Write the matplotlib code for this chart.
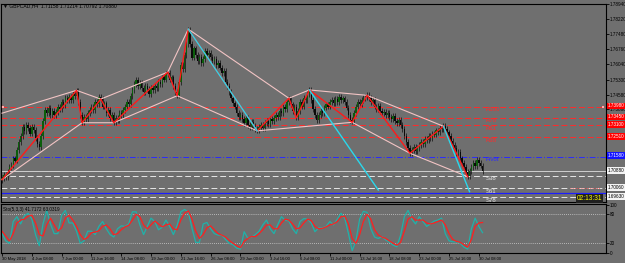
import numpy as np
import matplotlib
matplotlib.use("Agg")
import matplotlib.pyplot as plt
from matplotlib.transforms import blended_transform_factory

# GBPCAD H4 closes, in pips above 1.70000
closes = [
    55, 70, 62, 85, 108,
    120, 150, 140, 190, 230, 260, 300,
    280, 310, 295, 270, 300, 286,
    250, 220, 204,
    260, 330, 382,
    370, 395, 360, 380, 358,
    375, 400, 390, 420, 405, 440, 430,
    445, 430, 460, 450, 473,
    420, 360, 324,
    350, 340, 370, 382,
    400, 385, 420, 410, 445, 435,
    400, 415, 370, 385, 345, 360, 324,
    345, 335, 370, 360, 385, 396,
    420, 410, 450, 480, 510, 526,
    500, 515, 490, 470, 500, 485, 460, 490, 478,
    500, 490, 520, 510, 540, 530, 555, 564,
    530, 540, 500, 470, 454,
    520, 600, 580, 650, 700, 770,
    700, 636,
    680, 650, 620, 640, 610, 630, 670, 650, 660,
    640, 620, 630, 600, 610, 588,
    560, 570, 520, 500, 470, 440, 415,
    400, 370, 348,
    360, 340, 320, 345, 310, 300, 325, 305, 290, 286,
    300, 310, 295, 320, 330, 315, 340, 330, 343,
    360, 350, 380, 370, 400, 390, 420, 439,
    410, 380, 400, 348,
    380, 420, 400, 440, 430, 460, 478,
    430, 390, 360, 334,
    360, 380, 370, 395, 410, 400, 420, 430,
    415, 435, 420, 445, 430, 439,
    420, 395, 360, 335,
    330, 370, 400, 420, 410, 430, 440, 445, 454,
    440, 420, 430, 400, 390, 405, 380, 370, 375, 358,
    370, 350, 340, 355, 330, 320, 335, 310,
    290, 260, 230, 200, 175,
    190, 205, 185, 200, 214,
    230, 220, 245, 240, 260, 250, 270, 265, 285, 275, 295, 290, 305,
    290, 275, 260, 235, 214,
    200, 175, 180, 150, 130, 110, 85, 65,
    90, 110, 127, 115, 142,
    130, 116, 88,
]
first_open = 45
wick = 14

# zigzag swing points (bar index, pips)
zz_bars = [0, 40, 43, 53, 60, 89, 94, 100, 137, 154, 158, 165, 188, 196, 219, 237, 250]
zz_pips = [48, 478, 322, 436, 322, 566, 452, 773, 283, 440, 346, 480, 324, 454, 175, 305, 62]

# cyan projection lines (start bar, start pips, end bar, end pips)
cyan_lines = [(100, 773, 137, 283), (165, 480, 202, -2), (237, 305, 251, -10)]

# pink envelope
pink_up_bars = [0, 40, 53, 89, 100, 154, 165, 196, 237]
pink_up_pips = [368, 478, 436, 566, 773, 440, 480, 454, 305]
pink_dn_bars = [0, 43, 60, 94, 137, 188, 219, 250]
pink_dn_pips = [48, 322, 322, 452, 283, 324, 175, 62]

# pivot levels
level_names = ["R100", "R78", "R61", "R38", "Pivot", "S38", "S61", "S78"]
level_prices = [1.73980, 1.73450, 1.73100, 1.72510, 1.71580, 1.70670, 1.70060, 1.69630]
bid_price = 1.70880
blue_line = 1.69830

# stochastic (every 2 bars)
sto_main = [40, 25, 20, 65, 75, 60, 77, 82, 70, 38, 15, 60, 88, 60, 40, 40, 78, 88, 62, 62,
            45, 20, 25, 45, 45, 38, 55, 65, 50, 38, 33, 50, 56, 55, 60, 85, 85, 58, 38, 55,
            72, 65, 48, 53, 68, 55, 38, 57, 85, 90, 85, 51, 22, 22, 60, 63, 50, 40, 37, 37,
            28, 20, 17, 10, 8, 44, 30, 33, 38, 45, 58, 68, 50, 40, 58, 75, 68, 66, 50, 40,
            65, 71, 70, 62, 44, 52, 52, 55, 65, 58, 70, 82, 72, 40, 5, 25, 70, 86, 84, 50,
            33, 30, 34, 27, 22, 16, 13, 37, 75, 88, 70, 60, 75, 65, 55, 60, 66, 68, 72, 40,
            25, 23, 23, 20, 12, 8, 50, 72, 55, 42]
sto_signal = [45, 35, 25, 40, 62, 68, 70, 76, 78, 62, 38, 35, 58, 72, 58, 45, 52, 72, 78, 68,
              55, 38, 28, 32, 42, 43, 46, 55, 58, 50, 38, 40, 48, 54, 57, 68, 80, 75, 58, 50,
              58, 66, 60, 54, 58, 60, 50, 48, 68, 82, 87, 70, 45, 30, 38, 52, 56, 48, 40, 37,
              33, 26, 20, 15, 11, 24, 30, 34, 34, 40, 48, 58, 58, 50, 50, 62, 70, 68, 60, 50,
              52, 62, 70, 67, 55, 50, 51, 54, 58, 60, 65, 75, 76, 60, 30, 20, 38, 65, 80, 70,
              48, 37, 33, 30, 25, 20, 16, 22, 45, 70, 75, 68, 68, 68, 62, 60, 62, 65, 68, 58,
              40, 28, 24, 22, 17, 12, 28, 55, 62, 63]

date_labels = ["30 May 2018", "4 Jun 08:00", "7 Jun 00:00", "11 Jun 16:00", "14 Jun 08:00",
               "19 Jun 00:00", "21 Jun 16:00", "26 Jun 08:00", "29 Jun 00:00", "3 Jul 16:00",
               "6 Jul 08:00", "11 Jul 00:00", "13 Jul 16:00", "18 Jul 08:00", "23 Jul 00:00",
               "25 Jul 16:00", "30 Jul 08:00"]
price_ticks = [1.78940, 1.78220, 1.77480, 1.76760, 1.76040, 1.75300, 1.74580, 1.73860]


def to_price(p):
    return 1.7 + np.asarray(p, dtype=float) / 10000.0


plt.rcParams['font.family'] = ['Liberation Sans', 'DejaVu Sans']
bg = '#6f6f6f'
fs = 3.3      # price scale text
fd = 3.0      # date text

fig = plt.figure(figsize=(6.25, 2.63), dpi=100, facecolor=bg)
ax = fig.add_axes([1 / 625, 61 / 263, 604.5 / 625, 198 / 263], facecolor=bg)
ax2 = fig.add_axes([1 / 625, 10 / 263, 604.5 / 625, 49 / 263], facecolor=bg, sharex=ax)

n = len(closes)
x = np.arange(n)
c = np.array(closes, dtype=float)
o = np.concatenate([[first_open], c[:-1]])
hi = np.maximum(o, c) + wick
lo = np.minimum(o, c) - wick
up = c >= o

# levels
for name, lv in zip(level_names, level_prices):
    if name.startswith("R"):
        col, ls = '#ff2a2a', (0, (6, 3))
    elif name == "Pivot":
        col, ls = '#2a2aff', (0, (6, 2, 1, 2))
    else:
        col, ls = '#e6e6e6', (0, (6, 3))
    ax.axhline(lv, color=col, lw=0.7, ls=ls, zorder=1)
    ax.text(259.5, lv - 0.0002, name, color=col, fontsize=fs + 1.0, ha='left', va='top', zorder=6)
ax.axhline(bid_price, color='#d0d0d0', lw=0.7, zorder=1)
ax.axhline(blue_line, color='#1c1cff', lw=0.9, zorder=1)
ax.hlines(level_prices[6] + 0.0003, 305, 321, color='#ff4040', lw=0.6, ls=':', zorder=1)
ax.scatter([0.3, 322.5], [level_prices[0]] * 2, marker='s', s=3, c='white',
           edgecolors='#ff3030', linewidths=0.3, zorder=7, clip_on=False)

# candles
ax.vlines(x, to_price(lo), to_price(hi), color='#101010', lw=0.5, zorder=2)
ax.bar(x[up], to_price(c[up]) - to_price(o[up]), bottom=to_price(o[up]), width=0.75,
       color='#0b5e0b', lw=0, zorder=3)
ax.bar(x[~up], to_price(o[~up]) - to_price(c[~up]), bottom=to_price(c[~up]), width=0.75,
       color='#0a0a0a', lw=0, zorder=3)

# pattern lines
ax.plot(pink_up_bars, to_price(pink_up_pips), color='#f2c4c4', lw=0.8, zorder=4)
ax.plot(pink_dn_bars, to_price(pink_dn_pips), color='#f2c4c4', lw=0.8, zorder=4)
ax.plot(zz_bars, to_price(zz_pips), color='#ff1a1a', lw=1.0, zorder=5)
for b0, p0, b1, p1 in cyan_lines:
    ax.plot([b0, b1], to_price([p0, p1]), color='#2ad8ec', lw=1.0, zorder=5)

ax.set_xlim(-0.55, 324.0)
ax.set_ylim(1.69402, 1.78906)
ax.set_yticks(price_ticks)
ax.set_yticklabels(["%.5f" % t for t in price_ticks])
ax.yaxis.tick_right()
ax.tick_params(axis='y', direction='out', length=2, width=0.6, pad=1, labelsize=fs,
               colors='black')
ax.tick_params(axis='x', bottom=False, labelbottom=False)

# right-hand price boxes
tr = blended_transform_factory(ax.transAxes, ax.transData)
box_specs = [(level_prices[0], '#ff0000', 'white'), (level_prices[1], '#ff0000', 'white'),
             (level_prices[2], '#ff0000', 'white'), (level_prices[3], '#ff0000', 'white'),
             (level_prices[4], '#1414ff', 'white'), (bid_price, '#f4f4f4', 'black'),
             (level_prices[6], '#f4f4f4', 'black'), (level_prices[7], '#f4f4f4', 'black')]
for pv, fc, tc in box_specs:
    ax.text(1.004, pv + 0.0005, "%.5f" % pv, transform=tr, ha='left', va='center', fontsize=fs,
            color=tc, clip_on=False, zorder=8,
            bbox=dict(boxstyle='square,pad=0.2', fc=fc, ec='none'))
ax.text(0.995, 0.02, "02:13:31", transform=ax.transAxes, ha='right', va='center',
        fontsize=fs + 1.5, color='#ffff00', zorder=9,
        bbox=dict(boxstyle='square,pad=0.15', fc='#202020', ec='none'))

# stochastic panel
sx = np.arange(len(sto_main)) * 2
ax2.axhline(80, color='#d0d0d0', lw=0.6, ls=(0, (1, 1.5)))
ax2.axhline(20, color='#d0d0d0', lw=0.6, ls=(0, (1, 1.5)))
ax2.plot(sx, sto_main, color='#20b2aa', lw=0.9)
ax2.plot(sx, sto_signal, color='#ff2020', lw=0.9)
ax2.set_ylim(0, 101.2)
ax2.set_yticks([0, 20, 80, 100])
ax2.yaxis.tick_right()
ax2.tick_params(axis='y', direction='out', length=2, width=0.6, pad=1, labelsize=fs,
                colors='black')
ax2.set_xticks(np.arange(len(date_labels)) * 16)
ax2.set_xticklabels(date_labels, ha='left')
ax2.tick_params(axis='x', direction='out', length=2, width=0.6, pad=1, labelsize=fd,
                colors='black')
ax2.text(0.004, 0.88, "Sto(5,3,3) 41.7172 63.0319", transform=ax2.transAxes, fontsize=fs,
         color='black', ha='left', va='center')

for a in (ax, ax2):
    for s in a.spines.values():
        s.set_color('black')
        s.set_linewidth(0.8)

fig.text(3 / 625, 1 - 6 / 263, "▼ GBPCAD,H4  1.71158 1.71214 1.70792 1.70880",
         fontsize=fs + 0.3, color='black', ha='left', va='center')

fig.savefig('out.png', dpi=100, facecolor=bg)
